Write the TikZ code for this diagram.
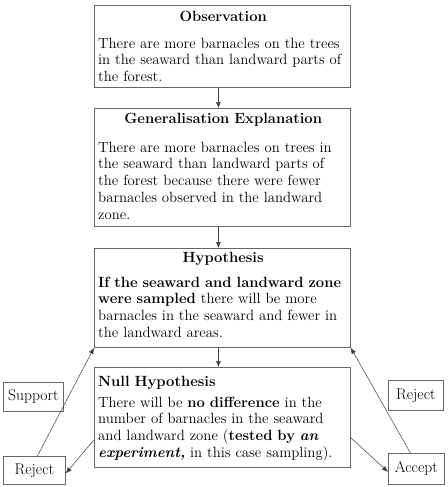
\documentclass[tikz,border=0pt]{standalone}
\usepackage{fontspec}
\usetikzlibrary{arrows.meta,calc}
\begin{document}
\begin{tikzpicture}[x=1pt,y=-1pt,
  box/.style={draw=black!60,line width=0.8pt,anchor=north west,inner sep=0pt},
  txt/.style={anchor=north west,inner sep=0pt,text width=250pt,align=left,font=\fontsize{14.8}{16.7}\selectfont},
  lab/.style={draw=black!60,line width=0.8pt,inner sep=0pt,anchor=north west,font=\fontsize{15.6}{16}\selectfont},
  conn/.style={draw=black!75,line width=0.5pt,-{Latex[length=6pt,width=5pt]}}]
\useasboundingbox (0,0) rectangle (447,487);
\fill[white] (0,0) rectangle (447,487);
% main boxes
\node[box,minimum width=256pt,minimum height=82pt] (obs) at (94,5) {};
\node[box,minimum width=256pt,minimum height=118pt] (gen) at (94,108) {};
\node[box,minimum width=256pt,minimum height=99pt] (hyp) at (94,248) {};
\node[box,minimum width=256pt,minimum height=100pt] (nul) at (94,367) {};
% texts
\node[txt] (obst) at (98,11) {{\centering\bfseries Observation\par}\vspace{10pt}
There are more barnacles on the trees\\in the seaward than landward parts of\\the forest.};
\node[txt] (gent) at (98,113) {{\centering\bfseries Generalisation Explanation\par}\vspace{12pt}
There are more barnacles on trees in\\the seaward than landward parts of\\the forest because there were fewer\\barnacles observed in the landward\\zone.};
\node[txt] (hypt) at (98,252) {{\centering\bfseries Hypothesis\par}\vspace{8pt}
\textbf{If the seaward and landward zone}\\\textbf{were sampled} there will be more\\barnacles in the seaward and fewer in\\the landward areas.};
\node[txt] (nult) at (98,376) {{\bfseries Null Hypothesis\par}\vspace{4pt}
There will be \textbf{no difference} in the\\number of barnacles in the seaward\\and landward zone (\textbf{tested by \textit{an}}\\\textbf{\textit{experiment,}} in this case sampling).};
% side labels
\node[lab,minimum width=60pt,minimum height=29pt] (sup) at (3,382) {Support};
\node[lab,minimum width=62pt,minimum height=28pt] (rejl) at (3,456) {Reject};
\node[lab,minimum width=55pt,minimum height=30pt] (rejr) at (388,380) {Reject};
\node[lab,minimum width=56pt,minimum height=31pt] (acc) at (388,453) {Accept};
% connectors
\draw[conn] ([xshift=-4pt]obs.south) -- ([xshift=-4pt]gen.north);
\draw[conn] ([xshift=-4pt]gen.south) -- ([xshift=-4pt]hyp.north);
\draw[conn] ([xshift=-4pt]hyp.south) -- ([xshift=-4pt]nul.north);
\draw[conn] ([xshift=3pt]rejl.north) -- (hyp.south west);
\draw[conn] ([yshift=28pt]nul.south west) -- ([yshift=-3pt]rejl.east);
\draw[conn] ([yshift=30pt]nul.south east) -- ([yshift=-3pt]acc.west);
\draw[conn] ([xshift=-6pt]acc.north) -- (hyp.south east);
\end{tikzpicture}
\end{document}
